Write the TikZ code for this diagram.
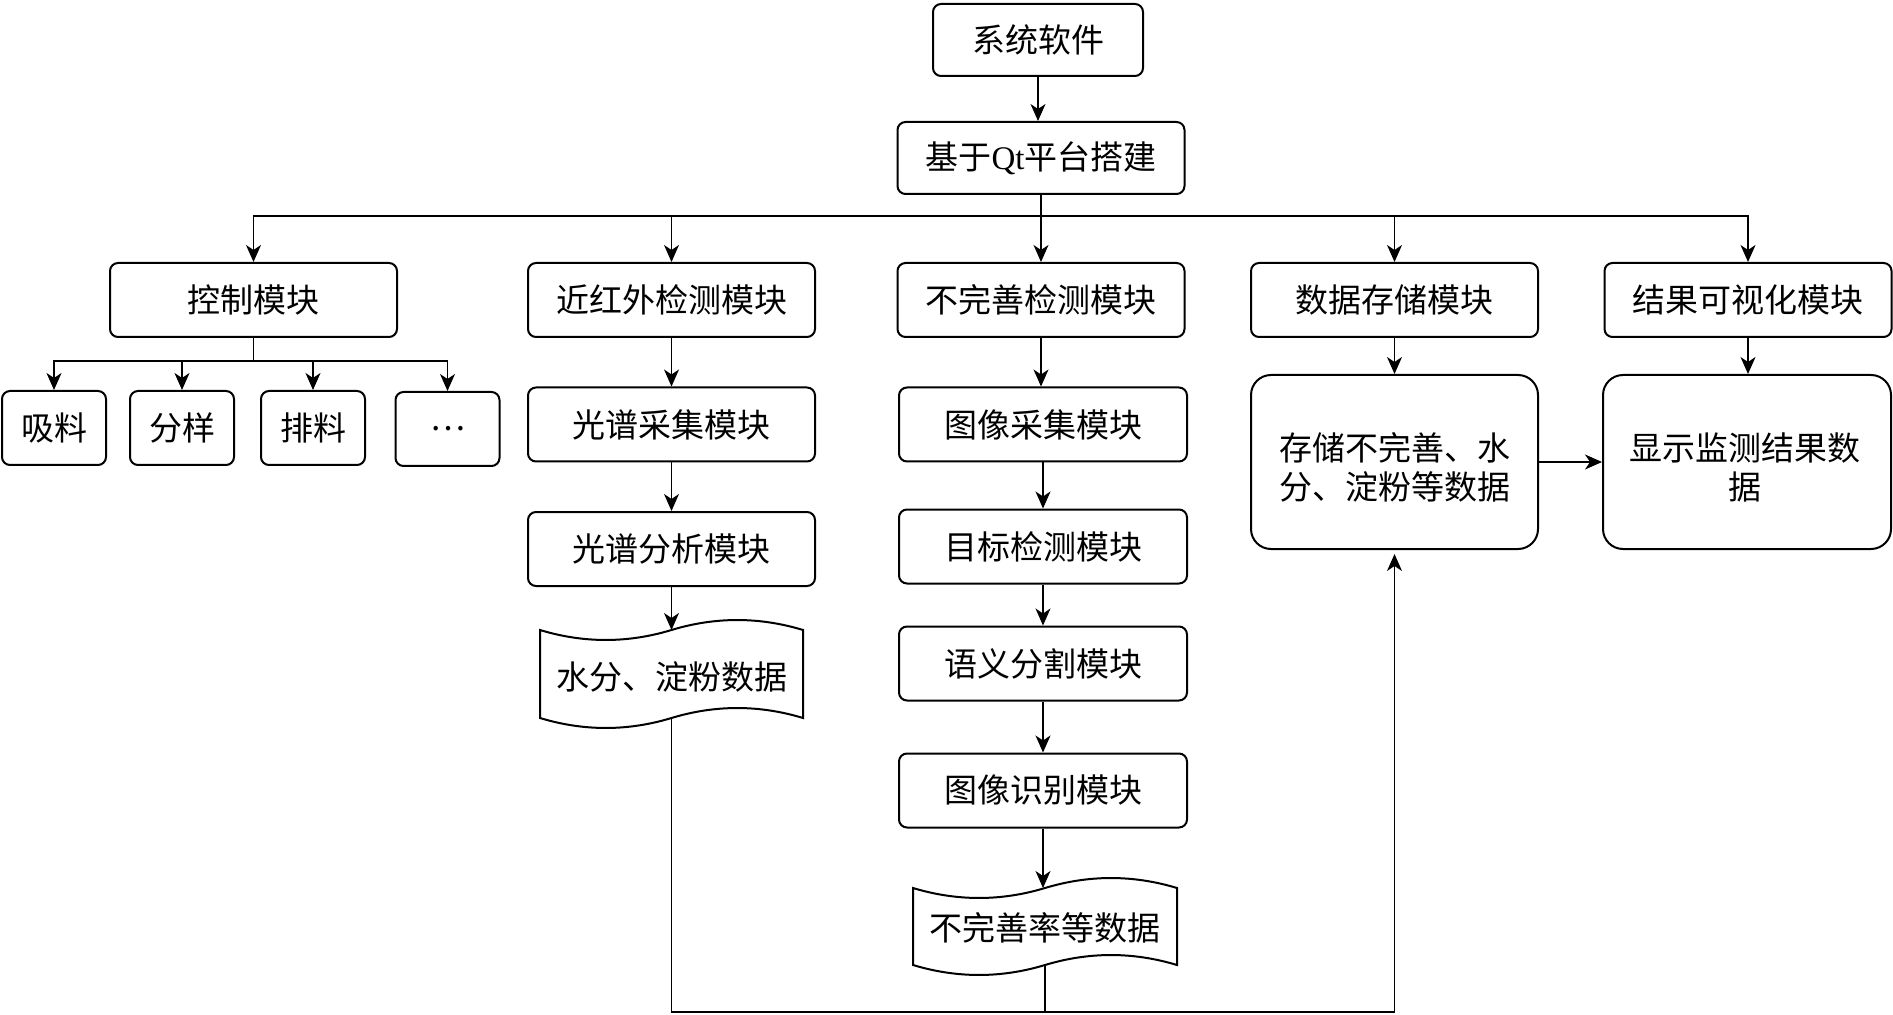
\documentclass[tikz,border=0pt]{standalone}
\usepackage{fontspec}
\setmainfont{Liberation Serif}
\newfontfamily\cjk{Noto Sans CJK SC}
\usetikzlibrary{arrows.meta,calc}
\tikzset{
  box/.style={draw, line width=1pt, rounded corners=4pt, inner sep=0pt,
    minimum width=143.5pt, minimum height=37pt, align=center,
    font=\cjk\fontsize{16.5}{19.5}\selectfont},
  bigbox/.style={box, rounded corners=10pt, minimum height=87pt},
  smallbox/.style={box, minimum width=52pt},
  tape/.style={draw, line width=1pt},
  conn/.style={line width=0.6pt},
  arr/.style={conn, -{Stealth[length=8.5pt,width=7.5pt,inset=2.5pt]}},
  lbl/.style={inner sep=0pt, align=center, font=\cjk\fontsize{16.5}{19.5}\selectfont}
}
\begin{document}
\begin{tikzpicture}[x=0.5pt,y=-0.5pt]
\useasboundingbox (0,0) rectangle (1893,1015);
% top
\node[box, minimum width=105pt, minimum height=36pt] (sys) at (1038,40) {系统软件};
\node[box, minimum height=36pt] (qt) at (1041,158) {基于{\rmfamily Qt}平台搭建};
% row 1
\node[box] (ctrl) at (253.5,300) {控制模块};
\node[box] (nir) at (671.5,300) {近红外检测模块};
\node[box] (imp) at (1041,300) {不完善检测模块};
\node[box] (data) at (1394.5,300) {数据存储模块};
\node[box] (vis) at (1748,300) {结果可视化模块};
% control subs
\node[smallbox] (s1) at (54,428) {吸料};
\node[smallbox] (s2) at (182,428) {分样};
\node[smallbox] (s3) at (313,428) {排料};
\node[smallbox] (s4) at (447.5,429) {…};
% column 2
\node[box] (spa) at (671.5,424.5) {光谱采集模块};
\node[box] (spb) at (671.5,549) {光谱分析模块};
% column 3
\node[box, minimum width=144pt] (ia) at (1043,424.5) {图像采集模块};
\node[box, minimum width=144pt] (ib) at (1043,546.5) {目标检测模块};
\node[box, minimum width=144pt] (ic) at (1043,663.5) {语义分割模块};
\node[box, minimum width=144pt] (id) at (1043,790.5) {图像识别模块};
% big boxes
\node[bigbox] (store) at (1394.5,462) {};
\node[lbl] (storet) at (1394.5,467) {存储不完善、水\\分、淀粉等数据};
\node[bigbox, minimum width=144pt] (show) at (1747,462) {};
\node[lbl] (showt) at (1745,467) {显示监测结果数\\据};
% tape 1
\draw[tape] (540,630) .. controls +(43.8,13.3) and +(-43.8,13.3) .. (671.5,630)
  .. controls +(43.8,-13.3) and +(-43.8,-13.3) .. (803,630) -- (803,718)
  .. controls +(-43.8,-13.3) and +(43.8,-13.3) .. (671.5,718)
  .. controls +(-43.8,13.3) and +(43.8,13.3) .. (540,718) -- cycle;
\coordinate (d1top) at (671.5,630);
\coordinate (d1bot) at (671.5,718);
\node[lbl] (d1) at (671.5,677) {水分、淀粉数据};
% tape 2
\draw[tape] (913,888) .. controls +(44,13.3) and +(-44,13.3) .. (1045,888)
  .. controls +(44,-13.3) and +(-44,-13.3) .. (1177,888) -- (1177,965)
  .. controls +(-44,-13.3) and +(44,-13.3) .. (1045,965)
  .. controls +(-44,13.3) and +(44,13.3) .. (913,965) -- cycle;
\coordinate (d2top) at (1045,888);
\coordinate (d2bot) at (1045,965);
\node[lbl] (d2) at (1045,928) {不完善率等数据};
% connectors
\draw[arr] (sys.south) -- (sys.south |- qt.north);
\draw[conn] (qt.south) -- ++(0,21) coordinate (bus);
\foreach \t in {ctrl,nir,imp,data,vis} \draw[arr] (bus) -| (\t.north);
\draw[conn] (ctrl.south) -- ++(0,23) coordinate (cbus);
\foreach \t in {s1,s2,s3,s4} \draw[arr] (cbus) -| (\t.north);
\draw[arr] (nir.south) -- (spa.north);
\draw[arr] (spa.south) -- (spb.north);
\draw[arr] (spb.south) -- (d1top);
\draw[arr] (imp.south) -- (imp.south |- ia.north);
\draw[arr] (ia.south) -- (ib.north);
\draw[arr] (ib.south) -- (ic.north);
\draw[arr] (ic.south) -- (id.north);
\draw[arr] (id.south) -- (id.south |- d2top);
\draw[arr] (data.south) -- (store.north);
\draw[arr] (vis.south) -- (vis.south |- show.north);
\draw[arr] (store.east) -- (show.west);
\coordinate (bot) at (1394.5,1012);
\draw[arr] (d1bot) |- (bot) -- ($(store.south)+(0,4)$);
\draw[conn] (d2bot) -- (d2bot |- bot);
\end{tikzpicture}
\end{document}
